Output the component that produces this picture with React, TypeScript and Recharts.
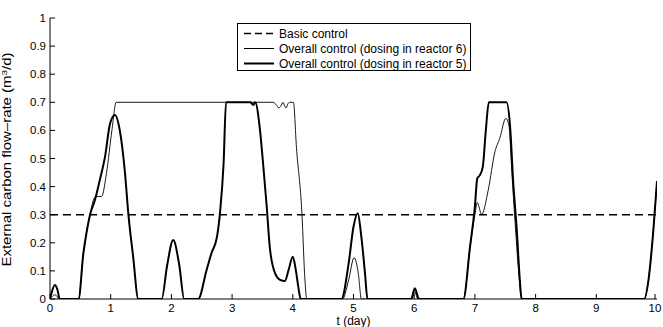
import { LineChart, Line, XAxis, YAxis, Legend, ReferenceLine } from 'recharts';

// t (day) and flow-rate (m3/d)
const tReactor5 = [
  0, 0.03, 0.08, 0.12, 0.16, 0.47, 0.55, 0.6, 0.66, 0.74, 0.82, 0.906, 0.99, 1.07, 1.15, 1.236,
  1.29, 1.37, 1.455, 1.84, 1.93, 2.03, 2.13, 2.21, 2.44, 2.58, 2.66, 2.75, 2.8, 2.86, 2.9,
  3.3, 3.35, 3.38, 3.46, 3.51, 3.57, 3.62, 3.71, 3.79, 3.87, 3.93, 4.0, 4.05, 4.09, 4.13,
  4.8, 4.92, 5.0, 5.07, 5.13, 5.19, 5.23, 5.95, 6.01, 6.08, 6.81, 6.92, 7.0, 7.04, 7.08,
  7.13, 7.18, 7.23, 7.52, 7.58, 7.63, 7.69, 7.74, 7.77, 9.79, 9.86, 9.94, 10,
];
const qReactor5 = [
  0, 0.025, 0.05, 0.035, 0, 0, 0.163, 0.234, 0.3, 0.352, 0.423, 0.506, 0.625, 0.655, 0.6, 0.447,
  0.305, 0.15, 0, 0, 0.12, 0.21, 0.12, 0, 0, 0.103, 0.163, 0.22, 0.305, 0.483, 0.7,
  0.7, 0.69, 0.7, 0.6, 0.483, 0.33, 0.186, 0.09, 0.068, 0.064, 0.103, 0.15, 0.103, 0.044, 0,
  0, 0.127, 0.257, 0.305, 0.22, 0.09, 0, 0, 0.038, 0, 0, 0.186, 0.33, 0.43, 0.44,
  0.47, 0.6, 0.7, 0.7, 0.613, 0.42, 0.245, 0.068, 0, 0, 0.068, 0.245, 0.42,
];

const tReactor6 = [
  0, 0.04, 0.08, 0.12, 0.14, 0.47, 0.55, 0.6, 0.66, 0.72, 0.76, 0.85, 0.93, 1.02, 1.09,
  3.68, 3.73, 3.77, 3.8, 3.84, 3.87, 3.89, 3.92, 3.95, 4.01, 4.06, 4.15, 4.2, 4.23,
  4.82, 4.92, 5.01, 5.08, 5.13, 5.96, 6.01, 6.06, 6.81, 6.92, 7.0, 7.04, 7.11, 7.22, 7.33,
  7.41, 7.51, 7.56, 7.61, 7.66, 7.72, 7.77, 9.79, 9.86, 9.94, 10,
];
const qReactor6 = [
  0, 0.01, 0.015, 0.008, 0, 0, 0.163, 0.234, 0.3, 0.355, 0.365, 0.365, 0.447, 0.6, 0.7,
  0.7, 0.69, 0.68, 0.685, 0.7, 0.685, 0.68, 0.695, 0.7, 0.7, 0.54, 0.305, 0.068, 0,
  0, 0.068, 0.147, 0.09, 0, 0, 0.025, 0, 0, 0.186, 0.3, 0.343, 0.301, 0.388, 0.524,
  0.572, 0.643, 0.618, 0.447, 0.28, 0.1, 0, 0, 0.068, 0.245, 0.42,
];

const basicControl = 0.3;

const xTicks = [0, 1, 2, 3, 4, 5, 6, 7, 8, 9, 10];
const yTicks = [0, 0.1, 0.2, 0.3, 0.4, 0.5, 0.6, 0.7, 0.8, 0.9, 1];

const legendItems = [
  { name: 'Basic control', width: 1.5, dash: '7 4' },
  { name: 'Overall control (dosing in reactor 6)', width: 1, dash: undefined },
  { name: 'Overall control (dosing in reactor 5)', width: 2, dash: undefined },
];

const reactor5 = tReactor5.map((t, i) => ({ t, q: qReactor5[i] }));
const reactor6 = tReactor6.map((t, i) => ({ t, q: qReactor6[i] }));

const FONT = '"Liberation Sans", Arial, sans-serif';

const BottomTick = ({ x, y, payload }: any) => (
  <g>
    <line x1={x} y1={y} x2={x} y2={y - 5} stroke="#000" />
    <text x={x} y={y + 13} textAnchor="middle" fontSize={11.5} fill="#000">
      {payload.value}
    </text>
  </g>
);
const TopTick = ({ x, y }: any) => <line x1={x} y1={y} x2={x} y2={y + 5} stroke="#000" />;
const LeftTick = ({ x, y, payload }: any) => (
  <g>
    <line x1={x} y1={y} x2={x + 5} y2={y} stroke="#000" />
    <text x={x - 4} y={y + 4} textAnchor="end" fontSize={11.5} fill="#000">
      {payload.value}
    </text>
  </g>
);
const RightTick = ({ x, y }: any) => <line x1={x} y1={y} x2={x - 5} y2={y} stroke="#000" />;

const YLabel = ({ viewBox }: any) => {
  const cx = viewBox.x + 11;
  const cy = viewBox.y + viewBox.height / 2 + 1;
  return (
    <text
      x={cx}
      y={cy}
      transform={`rotate(-90 ${cx} ${cy})`}
      textAnchor="middle"
      fontSize={12}
      fill="#000"
      textLength={214}
      lengthAdjust="spacingAndGlyphs"
    >
      External carbon flow–rate (m<tspan dy={-4} fontSize={8}>3</tspan>
      <tspan dy={4}>/d)</tspan>
    </text>
  );
};

const XLabel = ({ viewBox }: any) => (
  <text x={viewBox.x + viewBox.width / 2} y={325} textAnchor="middle" fontSize={12} fill="#000">
    t (day)
  </text>
);

const LegendBox = () => (
  <div
    style={{
      width: 234,
      height: 48,
      border: '1px solid #000',
      background: '#fff',
      fontFamily: FONT,
      fontSize: 12,
      paddingTop: 2,
      boxSizing: 'border-box',
    }}
  >
    {legendItems.map((it) => (
      <div key={it.name} style={{ display: 'flex', alignItems: 'center', height: 15 }}>
        <svg width={41} height={15} style={{ flex: 'none' }}>
          <line x1={6} y1={7.5} x2={36} y2={7.5} stroke="#000" strokeWidth={it.width} strokeDasharray={it.dash} />
        </svg>
        <span style={{ color: '#000', whiteSpace: 'nowrap' }}>{it.name}</span>
      </div>
    ))}
  </div>
);

export default function App() {
  return (
    <div style={{ position: 'absolute', left: 0, top: 0, background: '#fff', fontFamily: FONT }}>
      <LineChart width={663} height={327} margin={{ top: 18, right: 6, bottom: 0, left: 0 }}>
        <XAxis
          xAxisId="b"
          dataKey="t"
          type="number"
          domain={[0, 10]}
          ticks={xTicks}
          height={28}
          tickSize={0}
          tickMargin={0}
          tick={<BottomTick />}
          axisLine={{ stroke: '#000' }}
          allowDataOverflow
          label={<XLabel />}
        />
        <XAxis
          xAxisId="t"
          orientation="top"
          dataKey="t"
          type="number"
          domain={[0, 10]}
          ticks={xTicks}
          height={0}
          tickSize={0}
          tickMargin={0}
          tick={<TopTick />}
          axisLine={{ stroke: '#000' }}
        />
        <YAxis
          yAxisId="l"
          type="number"
          domain={[0, 1]}
          ticks={yTicks}
          width={50}
          tickSize={0}
          tickMargin={0}
          tick={<LeftTick />}
          axisLine={{ stroke: '#000' }}
          allowDataOverflow
          label={<YLabel />}
        />
        <YAxis
          yAxisId="r"
          orientation="right"
          type="number"
          domain={[0, 1]}
          ticks={yTicks}
          width={0}
          tickSize={0}
          tickMargin={0}
          tick={<RightTick />}
          axisLine={{ stroke: '#000' }}
        />
        <ReferenceLine
          xAxisId="b"
          yAxisId="l"
          y={basicControl}
          stroke="#000"
          strokeWidth={1.5}
          strokeDasharray="8 5"
        />
        <Line
          xAxisId="b"
          yAxisId="l"
          data={reactor6}
          dataKey="q"
          type="monotone"
          stroke="#000"
          strokeWidth={0.9}
          dot={false}
          isAnimationActive={false}
        />
        <Line
          xAxisId="b"
          yAxisId="l"
          data={reactor5}
          dataKey="q"
          type="monotone"
          stroke="#000"
          strokeWidth={2}
          dot={false}
          isAnimationActive={false}
        />
        <Legend
          layout="vertical"
          align="center"
          verticalAlign="middle"
          wrapperStyle={{ left: 237, top: 23, width: 234 }}
          content={<LegendBox />}
        />
      </LineChart>
    </div>
  );
}
